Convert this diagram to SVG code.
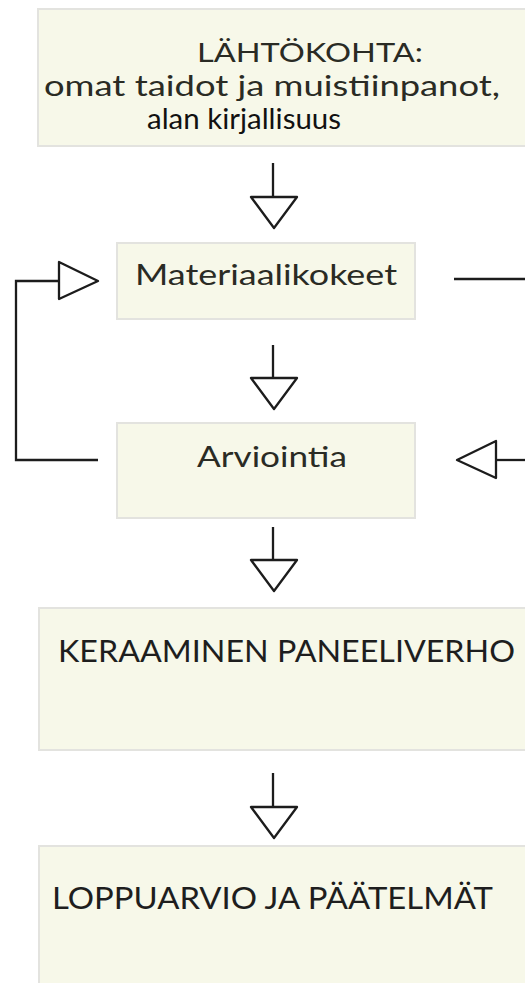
<svg xmlns="http://www.w3.org/2000/svg" width="525" height="983" viewBox="0 0 525 983">
<style>
.box{fill:#f7f8e9;stroke:#e3e3df;stroke-width:2}
.t{font-family:Lato,"Open Sans","Liberation Sans",sans-serif;fill:#2a2b24}
.ln{fill:none;stroke:#1c1c1c;stroke-width:2.3}
.hd{fill:#ffffff;stroke:#1c1c1c;stroke-width:2.3;stroke-linejoin:round}
</style>
<rect width="525" height="983" fill="#ffffff"/>
<g id="node-lahtokohta">
<rect class="box" x="38" y="9" width="500" height="137"/>
<text class="t" x="197" y="62" font-size="27.5" textLength="226" lengthAdjust="spacingAndGlyphs">LÄHTÖKOHTA:</text>
<text class="t" x="44" y="96" font-size="28" textLength="456" lengthAdjust="spacingAndGlyphs">omat taidot ja muistiinpanot,</text>
<text class="t" x="147" y="129" font-size="28.5" style="fill:#111111" textLength="194" lengthAdjust="spacingAndGlyphs">alan kirjallisuus</text>
</g>
<g id="node-materiaalikokeet">
<rect class="box" x="117" y="243" width="298" height="76"/>
<text class="t" x="135" y="285" font-size="28" textLength="262" lengthAdjust="spacingAndGlyphs">Materiaalikokeet</text>
</g>
<g id="node-arviointia">
<rect class="box" x="117" y="423" width="298" height="95"/>
<text class="t" x="197" y="467" font-size="28" textLength="150" lengthAdjust="spacingAndGlyphs">Arviointia</text>
</g>
<g id="node-keraaminen">
<rect class="box" x="39" y="608" width="500" height="142"/>
<text class="t" x="58" y="662" font-size="30" style="fill:#1e1e1e" textLength="457" lengthAdjust="spacingAndGlyphs">KERAAMINEN PANEELIVERHO</text>
</g>
<g id="node-loppuarvio">
<rect class="box" x="39" y="846" width="500" height="150"/>
<text class="t" x="52" y="909" font-size="30" style="fill:#1e1e1e" textLength="441" lengthAdjust="spacingAndGlyphs">LOPPUARVIO JA PÄÄTELMÄT</text>
</g>
<g id="connectors">
<path class="ln" d="M273 163V197"/>
<polygon class="hd" points="251,197 297,197 274,228"/>
<path class="ln" d="M273 345V378"/>
<polygon class="hd" points="251,378 297,378 274,409"/>
<path class="ln" d="M273 527V560"/>
<polygon class="hd" points="251,560 297,560 274,591"/>
<path class="ln" d="M273 773V807"/>
<polygon class="hd" points="251,807 297,807 274,838"/>
<path class="ln" d="M98 460H16V281H59"/>
<polygon class="hd" points="59,262 59,299 98,281"/>
<path class="ln" d="M454 279H525"/>
<path class="ln" d="M525 460H496"/>
<polygon class="hd" points="496,441 496,478 457,460"/>
</g>
</svg>
